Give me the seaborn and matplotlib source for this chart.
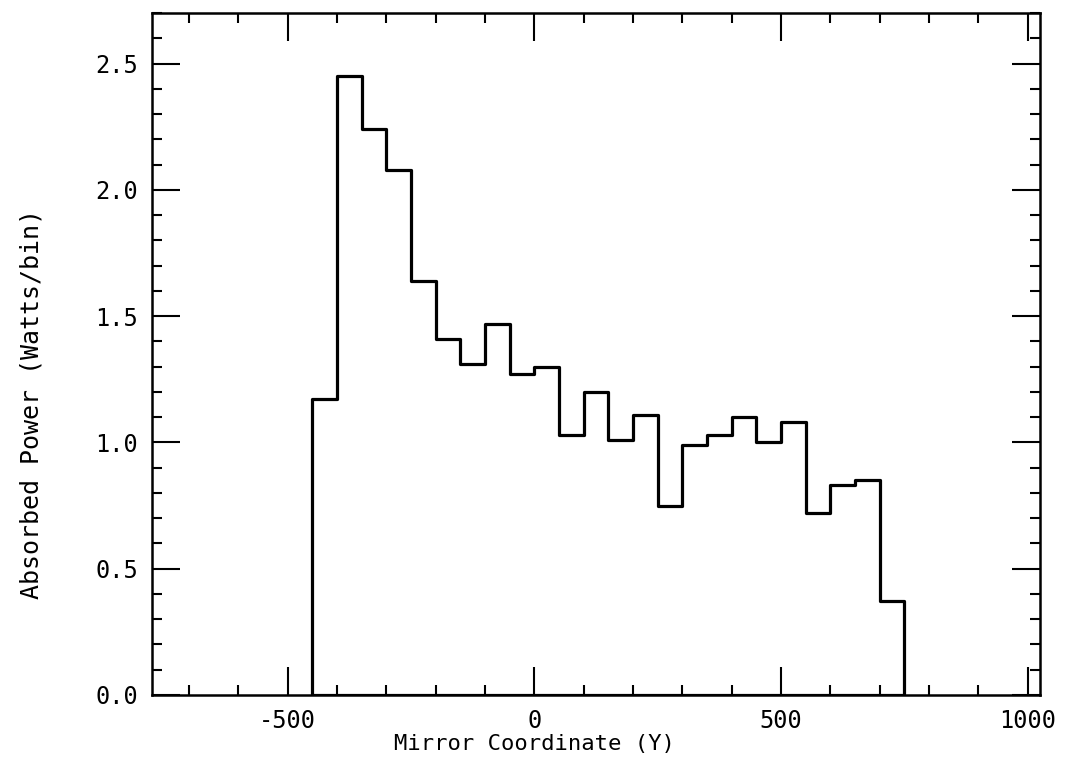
import numpy as np
import pandas as pd
import matplotlib
matplotlib.use("Agg")
import matplotlib.pyplot as plt
from matplotlib.ticker import MultipleLocator, FormatStrFormatter
import seaborn as sns

# bin edges along the mirror (50 unit bins) and absorbed power per bin
bin_edges = [-450, -400, -350, -300, -250, -200, -150, -100, -50, 0, 50, 100,
             150, 200, 250, 300, 350, 400, 450, 500, 550, 600, 650, 700, 750]
bin_centers = [-425, -375, -325, -275, -225, -175, -125, -75, -25, 25, 75, 125,
               175, 225, 275, 325, 375, 425, 475, 525, 575, 625, 675, 725]
power = [1.17, 2.45, 2.24, 2.08, 1.64, 1.41, 1.31, 1.47, 1.27, 1.30, 1.03, 1.20,
         1.01, 1.11, 0.75, 0.99, 1.03, 1.10, 1.00, 1.08, 0.72, 0.83, 0.85, 0.37]

df = pd.DataFrame({"y": bin_centers, "power": power})

sns.set_style("ticks")
plt.rcParams["font.family"] = ["DejaVu Sans Mono"]
plt.rcParams["axes.unicode_minus"] = False
plt.rcParams["text.color"] = "black"
plt.rcParams["axes.labelcolor"] = "black"
plt.rcParams["xtick.color"] = "black"
plt.rcParams["ytick.color"] = "black"

fig = plt.figure(figsize=(10.7, 7.73), dpi=100)
ax = fig.add_axes([0.142, 0.101, 0.830, 0.882])

sns.histplot(
    data=df, x="y", weights="power", bins=bin_edges, color="black",
    element="step", fill=True, facecolor="none", edgecolor="black",
    linewidth=2.3, ax=ax,
)

ax.set_xlim(-775, 1025)
ax.set_ylim(0, 2.7)
ax.xaxis.set_major_locator(MultipleLocator(500))
ax.xaxis.set_minor_locator(MultipleLocator(100))
ax.yaxis.set_major_locator(MultipleLocator(0.5))
ax.yaxis.set_minor_locator(MultipleLocator(0.1))
ax.yaxis.set_major_formatter(FormatStrFormatter("%.1f"))

ax.tick_params(which="both", direction="in", top=True, right=True,
               color="black", width=1.5, labelcolor="black")
ax.tick_params(which="major", length=20, labelsize=17, pad=10)
ax.tick_params(which="minor", length=7)
for s in ax.spines.values():
    s.set_linewidth(1.8)
    s.set_color("black")

ax.set_xlabel("Mirror Coordinate (Y)", fontsize=16, color="black")
ax.set_ylabel("Absorbed Power (Watts/bin)", fontsize=18, color="black")
ax.xaxis.set_label_coords(0.431, -0.058)
ax.yaxis.set_label_coords(-0.122, 0.427)

fig.savefig("out.png", dpi=100)
